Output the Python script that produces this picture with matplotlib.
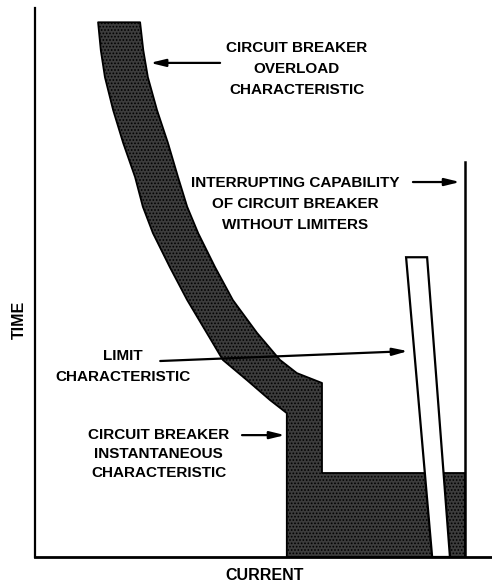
import numpy as np
import matplotlib
matplotlib.use("Agg")
import matplotlib.pyplot as plt

# Overload band (current, time in arbitrary units)
overload_lower_current = [1.38, 1.44, 1.53, 1.71, 1.93, 2.19, 2.36, 2.58, 2.95, 3.33, 3.76,
                          4.11, 4.64, 5.14, 5.51]
overload_lower_time = [9.74, 9.23, 8.74, 8.14, 7.54, 6.92, 6.38, 5.90, 5.28, 4.68, 4.08,
                       3.59, 3.22, 2.86, 2.62]
overload_upper_current = [2.30, 2.37, 2.47, 2.67, 2.91, 3.13, 3.33, 3.57, 3.94, 4.33, 4.86,
                          5.36, 5.73, 6.28]
overload_upper_time = [9.74, 9.23, 8.74, 8.14, 7.54, 6.92, 6.38, 5.90, 5.28, 4.68, 4.08,
                       3.59, 3.35, 3.17]

# Instantaneous step and interrupting capability
inst_time = 1.53
interrupt_current = 9.41
interrupt_top = 7.19

# Limit characteristic bar: (top left, top right, bottom right, bottom left)
limit_current = [8.12, 8.58, 9.08, 8.69]
limit_time = [5.46, 5.46, 0.0, 0.0]

labels = {
    "overload": "CIRCUIT BREAKER\nOVERLOAD\nCHARACTERISTIC",
    "interrupt": "INTERRUPTING CAPABILITY\nOF CIRCUIT BREAKER\nWITHOUT LIMITERS",
    "limit": "LIMIT\nCHARACTERISTIC",
    "instant": "CIRCUIT BREAKER\nINSTANTANEOUS\nCHARACTERISTIC",
}

plt.rcParams["font.family"] = ["Liberation Sans", "DejaVu Sans"]
plt.rcParams["hatch.color"] = "#c4c4c4"
plt.rcParams["hatch.linewidth"] = 0.8

fig = plt.figure(figsize=(4.92, 5.83), dpi=100)
ax = fig.add_axes([35 / 492, 26 / 583, 457 / 492, 549 / 583])
ax.set_xlim(0, 10)
ax.set_ylim(0, 10)

# band outline: lower curve, down step, bottom, up to interrupt line, step back to upper curve
xs = (overload_lower_current
      + [overload_lower_current[-1], interrupt_current, interrupt_current,
         overload_upper_current[-1]]
      + overload_upper_current[::-1])
ys = (overload_lower_time
      + [0.0, 0.0, inst_time, inst_time]
      + overload_upper_time[::-1])
ax.fill(xs, ys, facecolor="#3c3c3c", edgecolor="black", hatch=".....", lw=1.3,
        joinstyle="round", zorder=2)

ax.fill(limit_current, limit_time, facecolor="white", edgecolor="black", lw=1.6, zorder=3)

ax.plot([interrupt_current, interrupt_current], [0, interrupt_top], color="black", lw=1.8, zorder=4)

for side in ["top", "right"]:
    ax.spines[side].set_visible(False)
ax.spines["left"].set_linewidth(1.6)
ax.spines["bottom"].set_linewidth(2.0)
ax.set_xticks([])
ax.set_yticks([])

tkw = dict(fontsize=11, fontweight="bold", ha="center", va="center", linespacing=1.6)
akw = dict(arrowstyle="-|>,head_length=0.9,head_width=0.22", lw=1.6, color="black",
           shrinkA=0, shrinkB=0)

ax.text(5.73, 8.89, labels["overload"], **tkw)
ax.annotate("", xy=(2.52, 9.00), xytext=(4.05, 9.00), arrowprops=akw)

ax.text(5.69, 6.43, labels["interrupt"], **tkw)
ax.annotate("", xy=(9.30, 6.83), xytext=(8.27, 6.83), arrowprops=akw)

ax.text(1.93, 3.47, labels["limit"], **tkw)
ax.annotate("", xy=(8.16, 3.75), xytext=(2.74, 3.57), arrowprops=akw)

ax.text(2.71, 1.88, labels["instant"], fontsize=11, fontweight="bold", ha="center",
        va="center", linespacing=1.45)
ax.annotate("", xy=(5.47, 2.22), xytext=(4.53, 2.22), arrowprops=akw)

fig.text(19 / 492, 1 - 320 / 583, "TIME", rotation=90, fontsize=11.5, fontweight="bold",
         ha="center", va="center")
fig.text(265 / 492, 1 - 575 / 583, "CURRENT", fontsize=11.5, fontweight="bold",
         ha="center", va="center")

fig.savefig("out.png", dpi=100)
